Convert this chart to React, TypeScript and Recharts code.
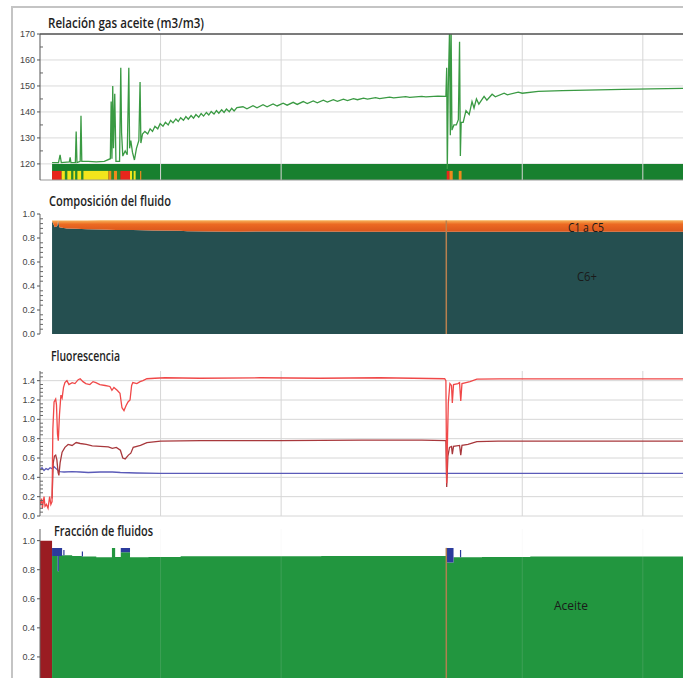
import React from "react";
import {
  ComposedChart,
  Line,
  Area,
  XAxis,
  YAxis,
  CartesianGrid,
  ReferenceArea,
  ReferenceLine,
} from "recharts";

// time axis (minutes) shared by the four panels
const timeGrid = [30, 60, 120, 150];
const eventTime = 101.1;

// Relación gas aceite
const gorTime = [
  3, 4.6, 5.0, 5.3, 7.3, 7.5, 7.7, 8.8, 9.0, 9.2, 10.0, 10.2, 10.4, 12, 14, 16, 17.5, 17.7, 17.9, 18.1,
  18.3, 18.6, 18.9, 19.8, 20.1, 20.3, 20.6, 21.2, 21.7, 22.1, 22.3, 22.6, 23.0, 23.5, 24.0, 24.6, 24.9,
  25.1, 25.5, 26.1, 26.8, 27.4, 28.0, 28.6, 29.3, 29.9, 30.6, 31.2, 31.9, 32.5, 33.1, 33.8, 34.4, 35.0,
  35.7, 36.3, 36.9, 37.6, 38.2, 38.8, 39.5, 40.1, 40.7, 41.4, 42.0, 42.6, 43.3, 43.9, 44.5, 45.2, 45.8,
  46.4, 47.1, 47.7, 48.3, 49.0, 50.5, 51.5, 53.0, 54.0, 55.5, 56.5, 58.0, 59.0, 60.5, 61.5, 63.0, 64.0,
  65.5, 66.5, 68.0, 69.0, 70.5, 71.5, 73.0, 74.0, 75.5, 76.5, 78.0, 79.0, 80.5, 81.5, 83.5, 84.5, 87.0,
  88.0, 91.0, 92.0, 95.0, 96.0, 99.0, 101.0, 101.2, 101.35, 101.6, 101.9, 102.1, 102.3, 102.5, 103.0,
  103.6, 104.1, 104.4, 104.6, 104.8, 105.3, 106.0, 106.8, 107.5, 108.0, 108.6, 109.2, 110.5, 111.2,
  112.5, 113.3, 115.5, 116.3, 119, 120, 124, 130, 136, 145, 152, 160,
];
const gorValue = [
  120.5, 120.5, 123.5, 120.5, 120.8, 122.5, 120.5, 120.5, 132.5, 120.5, 121, 138.5, 121, 121, 120.8, 121,
  122, 144, 122, 150, 126, 147, 121, 121, 157, 132, 123, 125, 123.5, 157, 126, 129, 124.5, 121.5, 126,
  129, 151.5, 128, 131.5, 132.5, 131.5, 133.5, 132.5, 134.5, 133.5, 135.5, 134.5, 136, 135, 136.8, 135.8,
  137.3, 136.3, 137.8, 136.8, 138.2, 137.2, 138.6, 137.6, 139, 138, 139.4, 138.4, 139.8, 138.8, 140.2,
  139.2, 140.5, 139.5, 140.8, 139.8, 141.1, 140.1, 141.4, 140.4, 141.7, 142.0, 141.2, 142.4, 141.6, 142.8,
  142.0, 143.1, 142.3, 143.4, 142.6, 143.7, 142.9, 144.0, 143.2, 144.2, 143.5, 144.5, 143.8, 144.7, 144.1,
  144.9, 144.4, 145.1, 144.7, 145.3, 144.9, 145.5, 145.1, 145.7, 145.4, 145.9, 145.6, 146.0, 145.8, 146.1,
  146, 157, 118, 150, 171, 131, 171, 133, 135, 135, 137, 167, 123, 136, 136, 140.5, 139, 144, 141.5, 145,
  143, 146, 144.5, 146.8, 145.8, 147.2, 146.6, 147.6, 147.2, 147.9, 148.2, 148.4, 148.7, 148.9, 149.1,
];
const gorMajor = [120, 130, 140, 150, 160, 170];
const gorTicks = [120, 125, 130, 135, 140, 145, 150, 155, 160, 165, 170];

// status strip under the GOR curve
const stripStart = [3, 5.4, 6.2, 6.8, 7.8, 8.3, 8.8, 9.3, 10.3, 10.8, 17, 17.8, 18.4, 19.2, 20, 22.4, 22.9, 23.3, 24.9, 101.2, 101.9, 104.2];
const stripEnd = [5.4, 6.2, 6.8, 7.8, 8.3, 8.8, 9.3, 10.3, 10.8, 17, 17.8, 18.4, 19.2, 20, 22.4, 22.9, 23.3, 23.8, 25.2, 101.9, 102.7, 104.9];
const stripColor = [
  "#e8261c", "#f2e51c", "#2a8a2a", "#f2e51c", "#2a8a2a", "#f2e51c", "#2a8a2a", "#f2e51c", "#2a8a2a", "#f2e51c",
  "#ef8a1c", "#2a8a2a", "#ef8a1c", "#2a8a2a", "#e8261c", "#f2e51c", "#2a8a2a", "#f2e51c", "#ef8a1c", "#e8261c",
  "#ef8a1c", "#ef8a1c",
];

// Composición del fluido
const compTime = [3, 3.7, 4.3, 4.5, 4.8, 5.5, 6.7, 9, 11.7, 15, 19, 23.1, 28, 34.8, 36.6, 42, 49.8, 65, 80, 101, 115, 130, 145, 160];
const compC6 = [0.94, 0.89, 0.9, 0.945, 0.89, 0.885, 0.88, 0.878, 0.872, 0.87, 0.866, 0.867, 0.862, 0.861, 0.856, 0.855, 0.853, 0.854, 0.853, 0.853, 0.853, 0.853, 0.853, 0.853];
const compC15 = [0.005, 0.055, 0.045, 0, 0.055, 0.06, 0.065, 0.068, 0.074, 0.077, 0.081, 0.08, 0.085, 0.087, 0.092, 0.093, 0.095, 0.094, 0.095, 0.095, 0.095, 0.095, 0.095, 0.095];
const unitMajor = [0, 0.2, 0.4, 0.6, 0.8, 1.0];
const compTicks = [
  0, 0.04, 0.08, 0.12, 0.16, 0.2, 0.24, 0.28, 0.32, 0.36, 0.4, 0.44, 0.48, 0.52, 0.56, 0.6, 0.64, 0.68,
  0.72, 0.76, 0.8, 0.84, 0.88, 0.92, 0.96, 1.0,
];

// Fluorescencia
const fluRedTime = [
  0, 0.4, 0.6, 1.0, 1.25, 1.6, 2.0, 2.4, 2.7, 3.0, 3.2, 3.5, 3.9, 4.1, 4.35, 4.55, 4.85, 5.2, 5.5, 5.85,
  6.2, 6.7, 7.2, 8.0, 8.7, 9.5, 10, 10.7, 11.4, 12.4, 13.2, 13.9, 14.9, 16.2, 17.4, 17.9, 18.4, 19.2, 19.9,
  20.4, 20.9, 21.4, 21.9, 22.4, 22.8, 23.1, 24.1, 24.9, 25.6, 26.6, 28.6, 31.1, 39.8, 54.7, 69.7, 84.6,
  92.8, 100.7, 101.0, 101.2, 101.4, 101.6, 102.0, 102.4, 102.6, 102.9, 104.0, 104.4, 104.7, 105.0, 106,
  107, 108.7, 114.4, 160,
];
const fluRed = [
  0.11, 0.18, 0.08, 0.2, 0.1, 0.12, 0.08, 0.2, 0.12, 0.15, 0.9, 1.18, 1.21, 1.15, 0.85, 0.78, 1.05, 1.25,
  1.22, 1.33, 1.38, 1.4, 1.36, 1.38, 1.37, 1.41, 1.42, 1.39, 1.37, 1.36, 1.39, 1.38, 1.36, 1.35, 1.34, 1.3,
  1.33, 1.3, 1.27, 1.12, 1.09, 1.14, 1.18, 1.2, 1.35, 1.38, 1.37, 1.39, 1.4, 1.42, 1.425, 1.43, 1.425, 1.43,
  1.425, 1.43, 1.425, 1.42, 1.4, 0.34, 0.8, 1.17, 1.37, 1.35, 1.17, 1.36, 1.37, 1.38, 1.19, 1.37, 1.38,
  1.39, 1.415, 1.418, 1.418,
];
const fluDarkTime = [
  3.0, 3.3, 3.6, 3.9, 4.2, 4.5, 4.7, 5.0, 5.5, 6.2, 7.0, 8.0, 9.0, 10.0, 11.5, 13.0, 15.0, 17.0, 18.0,
  19.0, 20.0, 20.6, 21.2, 22.0, 22.6, 23.2, 25.0, 26.6, 30, 40, 60, 80, 95, 101.0, 101.2, 101.5, 101.9,
  102.4, 102.6, 102.9, 104.4, 104.7, 105.0, 106.5, 108.7, 114, 160,
];
const fluDark = [
  0.18, 0.55, 0.62, 0.63, 0.58, 0.45, 0.42, 0.55, 0.66, 0.71, 0.74, 0.73, 0.76, 0.75, 0.74, 0.725, 0.72,
  0.715, 0.7, 0.71, 0.68, 0.6, 0.59, 0.63, 0.65, 0.71, 0.73, 0.76, 0.775, 0.78, 0.78, 0.785, 0.785, 0.78,
  0.3, 0.62, 0.71, 0.72, 0.64, 0.72, 0.73, 0.63, 0.73, 0.74, 0.77, 0.775, 0.775,
];
const fluBlueTime = [0, 0.5, 1.0, 1.5, 2.0, 2.5, 3.0, 3.5, 4.0, 4.5, 5.0, 6.0, 8.0, 10.0, 12.0, 15, 18, 20, 24, 30, 60, 101, 101.2, 101.5, 160];
const fluBlue = [0.48, 0.5, 0.47, 0.49, 0.48, 0.5, 0.49, 0.51, 0.49, 0.47, 0.46, 0.455, 0.46, 0.455, 0.45, 0.455, 0.455, 0.45, 0.445, 0.44, 0.44, 0.44, 0.43, 0.44, 0.44];
const fluMajor = [0, 0.2, 0.4, 0.6, 0.8, 1.0, 1.2, 1.4];
const fluTicks = [
  0, 0.04, 0.08, 0.12, 0.16, 0.2, 0.24, 0.28, 0.32, 0.36, 0.4, 0.44, 0.48, 0.52, 0.56, 0.6, 0.64, 0.68,
  0.72, 0.76, 0.8, 0.84, 0.88, 0.92, 0.96, 1.0, 1.04, 1.08, 1.12, 1.16, 1.2, 1.24, 1.28, 1.32, 1.36, 1.4,
  1.44, 1.48,
];

// Fracción de fluidos
const fracTime = [0, 3, 4.4, 4.7, 5.5, 5.8, 6.1, 8, 10.4, 10.7, 14, 17.9, 18.7, 20.1, 22.4, 27, 35, 50, 70, 90, 101.2, 102.9, 104.5, 104.8, 110, 122, 140, 160];
const fracWater = [1, 0, 0, 0, 0, 0, 0, 0, 0, 0, 0, 0, 0, 0, 0, 0, 0, 0, 0, 0, 0, 0, 0, 0, 0, 0, 0, 0];
const fracOil = [0, 0.895, 0.79, 0.895, 0.9, 0.9, 0.9, 0.895, 0.89, 0.89, 0.885, 0.95, 0.888, 0.92, 0.886, 0.888, 0.892, 0.893, 0.894, 0.895, 0.85, 0.885, 0.885, 0.885, 0.887, 0.89, 0.89, 0.89];
const fracGas = [0, 0.055, 0.16, 0.055, 0, 0.035, 0, 0, 0.035, 0, 0, 0, 0, 0.03, 0, 0, 0, 0, 0, 0, 0.1, 0, 0.05, 0, 0, 0, 0, 0];
const fracTicks = [0.2, 0.4, 0.6, 0.8, 1.0];

const gorData = gorTime.map((t, i) => ({ t, v: gorValue[i] }));
const compData = compTime.map((t, i) => ({ t, c6: compC6[i], c15: compC15[i] }));
const redData = fluRedTime.map((t, i) => ({ t, v: fluRed[i] }));
const darkData = fluDarkTime.map((t, i) => ({ t, v: fluDark[i] }));
const blueData = fluBlueTime.map((t, i) => ({ t, v: fluBlue[i] }));
const fracData = fracTime.map((t, i) => ({ t, w: fracWater[i], o: fracOil[i], g: fracGas[i] }));

const W = 683;
const margin = { top: 8, right: 0, left: 0, bottom: 0 };

// label + outward dash for major values, short inward dash for the others
function makeTick(majors: number[], digits: number) {
  return (props: any) => {
    const { x, y, payload } = props;
    const v = payload.value as number;
    const isMajor = majors.some((m) => Math.abs(m - v) < 1e-6);
    if (!isMajor) {
      return <line x1={x} x2={x + 3} y1={y} y2={y} stroke="#666" />;
    }
    return (
      <g>
        <line x1={x - 3} x2={x} y1={y} y2={y} stroke="#555" />
        <text x={x - 5} y={y} dy={3} textAnchor="end" fontSize={9} fill="#444" fontFamily="Liberation Sans, Arial, sans-serif">
          {v.toFixed(digits)}
        </text>
      </g>
    );
  };
}

const gorTick = makeTick(gorMajor, 0);
const compTick = makeTick(unitMajor, 1);
const fluTick = makeTick(fluMajor, 1);
const fracTick = makeTick(fracTicks, 1);

function TimeAxis({ line }: { line?: boolean }) {
  return (
    <XAxis
      dataKey="t"
      type="number"
      domain={[0, 160]}
      ticks={timeGrid}
      allowDataOverflow
      tick={false}
      tickLine={false}
      axisLine={line ? { stroke: "#999" } : false}
      height={8}
    />
  );
}

function Title({ x, y, len, size, children }: { x: number; y: number; len: number; size: number; children: string }) {
  return (
    <text x={x} y={y} fontSize={size} fontWeight={600} fill="#1e1e1e" fontFamily="Open Sans, sans-serif" textLength={len} lengthAdjust="spacingAndGlyphs">
      {children}
    </text>
  );
}

export default function App() {
  return (
    <div style={{ position: "absolute", left: 0, top: 0, width: W, height: 678, overflow: "hidden", background: "#fff" }}>
      <div style={{ position: "absolute", left: 11, top: 6, right: -4, bottom: -4, borderLeft: "2px solid #c4c4c4", borderTop: "2px solid #c4c4c4" }} />

      {/* Relación gas aceite */}
      <div style={{ position: "absolute", left: 0, top: 26 }}>
        <ComposedChart width={W} height={162} data={gorData} margin={margin}>
          <CartesianGrid stroke="#dadada" vertical={false} horizontalValues={gorMajor} />
          <TimeAxis line />
          <YAxis domain={[113.8, 170]} ticks={gorTicks} interval={0} allowDataOverflow width={40} tickSize={0} tickMargin={0} tickLine={false} tick={gorTick} axisLine={{ stroke: "#555" }} />
          {timeGrid.map((x) => (
            <ReferenceLine key={x} x={x} stroke="#d6d6d6" />
          ))}
          <ReferenceArea x1={3} x2={160} y1={113.8} y2={120} fill="#18802f" fillOpacity={1} stroke="none" />
          {stripStart.map((s, i) => (
            <ReferenceArea key={i} x1={s} x2={stripEnd[i]} y1={113.8} y2={117.3} fill={stripColor[i]} fillOpacity={1} stroke="none" />
          ))}
          <Line dataKey="v" stroke="#3a9a43" strokeWidth={1.3} dot={false} isAnimationActive={false} />
          <ReferenceLine y={170} stroke="#555" strokeWidth={1.5} />
        </ComposedChart>
      </div>

      {/* Composición del fluido */}
      <div style={{ position: "absolute", left: 0, top: 206 }}>
        <ComposedChart width={W} height={136} data={compData} margin={margin}>
          <defs>
            <linearGradient id="c15grad" x1="0" y1="0" x2="0" y2="1">
              <stop offset="0" stopColor="#f7b45a" />
              <stop offset="0.35" stopColor="#ec6a22" />
              <stop offset="1" stopColor="#d9561c" />
            </linearGradient>
          </defs>
          <TimeAxis />
          <YAxis domain={[0, 1]} ticks={compTicks} interval={0} width={40} tickSize={0} tickMargin={0} tickLine={false} tick={compTick} axisLine={{ stroke: "#666" }} />
          <Area dataKey="c6" stackId="c" type="linear" stroke="none" fill="#254f50" fillOpacity={1} isAnimationActive={false} />
          <Area dataKey="c15" stackId="c" type="linear" stroke="none" fill="url(#c15grad)" fillOpacity={1} isAnimationActive={false} />
          <ReferenceLine segment={[{ x: eventTime, y: 0 }, { x: eventTime, y: 0.945 }]} stroke="#b8804f" strokeWidth={1.5} />
        </ComposedChart>
      </div>

      {/* Fluorescencia */}
      <div style={{ position: "absolute", left: 0, top: 363 }}>
        <ComposedChart width={W} height={161} margin={margin}>
          <CartesianGrid stroke="#d6d6d6" vertical={false} horizontalValues={fluMajor} />
          <TimeAxis />
          <YAxis domain={[0, 1.5]} ticks={fluTicks} interval={0} allowDataOverflow width={40} tickSize={0} tickMargin={0} tickLine={false} tick={fluTick} axisLine={{ stroke: "#666" }} />
          {timeGrid.map((x) => (
            <ReferenceLine key={x} x={x} stroke="#d6d6d6" />
          ))}
          <Line data={blueData} dataKey="v" stroke="#5a5ab8" strokeWidth={1.3} dot={false} isAnimationActive={false} />
          <Line data={darkData} dataKey="v" stroke="#a8383c" strokeWidth={1.3} dot={false} isAnimationActive={false} />
          <Line data={redData} dataKey="v" stroke="#f04848" strokeWidth={1.3} dot={false} isAnimationActive={false} />
        </ComposedChart>
      </div>

      {/* Fracción de fluidos */}
      <div style={{ position: "absolute", left: 0, top: 521 }}>
        <ComposedChart width={W} height={173} data={fracData} margin={margin}>
          <TimeAxis />
          <YAxis domain={[0, 1.08]} ticks={fracTicks} interval={0} allowDataOverflow width={40} tickSize={0} tickMargin={0} tickLine={false} tick={fracTick} axisLine={{ stroke: "#666" }} />
          <Area dataKey="w" stackId="f" type="stepAfter" stroke="none" fill="#9a1c22" fillOpacity={1} isAnimationActive={false} />
          <Area dataKey="o" stackId="f" type="stepAfter" stroke="none" fill="#22963f" fillOpacity={1} isAnimationActive={false} />
          <Area dataKey="g" stackId="f" type="stepAfter" stroke="none" fill="#2b3b9c" fillOpacity={1} isAnimationActive={false} />
          {timeGrid.map((x) => (
            <ReferenceLine key={x} x={x} stroke="#d6d6d6" strokeOpacity={0.15} />
          ))}
          <ReferenceLine segment={[{ x: eventTime, y: 0 }, { x: eventTime, y: 0.95 }]} stroke="#b08050" strokeWidth={1.5} />
        </ComposedChart>
      </div>

      <svg width={W} height={678} style={{ position: "absolute", left: 0, top: 0, pointerEvents: "none" }}>
        <Title x={48} y={28} len={156} size={15}>Relación gas aceite (m3/m3)</Title>
        <Title x={49} y={206} len={122} size={14}>Composición del fluido</Title>
        <Title x={51} y={360.5} len={69} size={14}>Fluorescencia</Title>
        <Title x={54} y={535.5} len={99} size={14}>Fracción de fluidos</Title>
        <text x={568} y={232} fontSize={13} fill="#1a1a1a" fontFamily="Open Sans, sans-serif" textLength={36} lengthAdjust="spacingAndGlyphs">C1 a C5</text>
        <text x={577} y={281} fontSize={13} fill="#1a1a1a" fontFamily="Open Sans, sans-serif" textLength={20} lengthAdjust="spacingAndGlyphs">C6+</text>
        <text x={554} y={610} fontSize={13} fill="#1a1a1a" fontFamily="Open Sans, sans-serif" textLength={34} lengthAdjust="spacingAndGlyphs">Aceite</text>
      </svg>
    </div>
  );
}
